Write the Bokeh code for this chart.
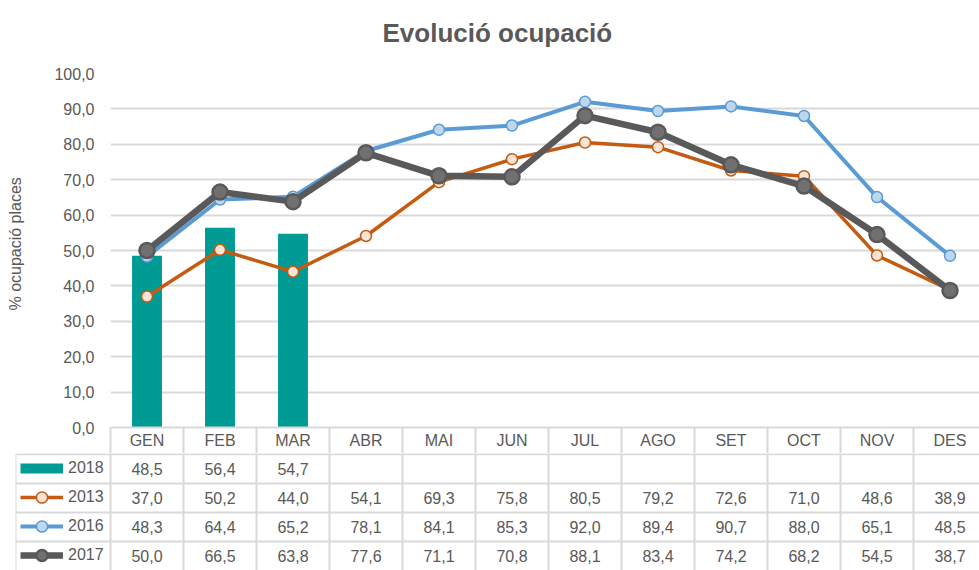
from bokeh.plotting import figure
from bokeh.models import Range1d, FixedTicker, Legend, LegendItem, ColumnDataSource, Title
from bokeh.embed import file_html
from bokeh.resources import INLINE
from bokeh.core.properties import value

# ---------------- data ----------------
months = ["GEN", "FEB", "MAR", "ABR", "MAI", "JUN", "JUL", "AGO", "SET", "OCT", "NOV", "DES"]
v2018 = [48.5, 56.4, 54.7]
v2013 = [37.0, 50.2, 44.0, 54.1, 69.3, 75.8, 80.5, 79.2, 72.6, 71.0, 48.6, 38.9]
v2016 = [48.3, 64.4, 65.2, 78.1, 84.1, 85.3, 92.0, 89.4, 90.7, 88.0, 65.1, 48.5]
v2017 = [50.0, 66.5, 63.8, 77.6, 71.1, 70.8, 88.1, 83.4, 74.2, 68.2, 54.5, 38.7]
y_ticks = [0, 10, 20, 30, 40, 50, 60, 70, 80, 90, 100]
series_names = ["2018", "2013", "2016", "2017"]
title_text = "Evolució ocupació"
y_label = "% ocupació  places"

# ---------------- style ----------------
FONT = "Liberation Sans"
FS = "16px"
TXT = "#595959"
GRID = "#D9D9D9"
C2018 = "#009B95"
C2013 = "#C55A11"
F2013 = "#FBE5D6"
C2016 = "#5B9BD5"
F2016 = "#BDD7EE"
C2017 = "#595959"
F2017 = "#707070"

W = 979
CAT = 73.0          # px per month column
LEFT = 110          # figure left edge -> plot frame
TBL_LEFT = 15       # figure left edge -> table frame
x_end = (W - LEFT) / CAT
x_tbl0 = -(LEFT - TBL_LEFT) / CAT
NAN = float("nan")


def fmt(v):
    return f"{v:.1f}".replace(".", ",")


xc = [i + 0.5 for i in range(len(months))]

# ---------------- chart ----------------
p = figure(width=W, height=453, x_range=Range1d(0, x_end), y_range=Range1d(0, 100),
           output_backend="svg", toolbar_location=None,
           min_border_left=LEFT, min_border_right=0, min_border_top=73, min_border_bottom=26,
           outline_line_color=None, background_fill_color="white", border_fill_color="white")

p.title.text = title_text
p.title.align = "left"
p.title.offset = 272
p.title.text_font = FONT
p.title.text_font_size = "26px"
p.title.text_font_style = "bold"
p.title.text_color = TXT
p.title.standoff = 10
# thin spacer between the title and the plot area
p.add_layout(Title(text=" ", text_font_size="1px", standoff=18), "above")

p.xgrid.visible = False
p.ygrid.ticker = FixedTicker(ticks=y_ticks)
p.ygrid.grid_line_color = GRID
p.ygrid.grid_line_width = 2

ya = p.yaxis[0]
ya.ticker = FixedTicker(ticks=y_ticks)
ya.major_label_overrides = {t: fmt(t) for t in y_ticks}
ya.axis_line_color = None
ya.major_tick_line_color = None
ya.minor_tick_line_color = None
ya.major_tick_out = 0
ya.major_label_standoff = 16
ya.major_label_text_font = FONT
ya.major_label_text_font_size = FS
ya.major_label_text_color = TXT
ya.axis_label = "\u00a0" * 4 + y_label
ya.axis_label_text_font = FONT
ya.axis_label_text_font_size = FS
ya.axis_label_text_font_style = "normal"
ya.axis_label_text_color = TXT
ya.axis_label_standoff = 27

xa = p.xaxis[0]
xa.ticker = FixedTicker(ticks=xc, minor_ticks=list(range(len(months) + 1)))
xa.major_label_overrides = {x: m for x, m in zip(xc, months)}
xa.axis_line_color = GRID
xa.axis_line_width = 2
xa.major_tick_line_color = None
xa.major_tick_out = 0
xa.major_tick_in = 0
xa.minor_tick_line_color = GRID
xa.minor_tick_line_width = 2
xa.minor_tick_out = 26
xa.minor_tick_in = 0
xa.major_label_standoff = -22
xa.major_label_text_font = FONT
xa.major_label_text_font_size = FS
xa.major_label_text_color = TXT

src = ColumnDataSource(dict(x=xc, v2013=v2013, v2016=v2016, v2017=v2017))
bar_src = ColumnDataSource(dict(x=xc[:len(v2018)], top=v2018))

p.vbar(x="x", top="top", width=0.41, source=bar_src, fill_color=C2018, line_color=None)
p.line("x", "v2013", source=src, line_color=C2013, line_width=3.5)
p.scatter("x", "v2013", source=src, size=11, fill_color=F2013, line_color=C2013, line_width=1.5)
p.line("x", "v2016", source=src, line_color=C2016, line_width=4)
p.scatter("x", "v2016", source=src, size=11, fill_color=F2016, line_color=C2016, line_width=1.5)
p.line("x", "v2017", source=src, line_color=C2017, line_width=6.5)
p.scatter("x", "v2017", source=src, size=15, fill_color=F2017, line_color=C2017, line_width=2.5)

# ---------------- data table ----------------
nrows = len(series_names)
t = figure(width=W, height=117, x_range=Range1d(x_tbl0, x_end), y_range=Range1d(0, nrows + 0.03),
           output_backend="svg", toolbar_location=None,
           min_border_left=TBL_LEFT, min_border_right=0, min_border_top=0, min_border_bottom=0,
           outline_line_color=None, background_fill_color="white", border_fill_color="white")
t.axis.visible = False
t.grid.visible = False

# table rules
vx = [x_tbl0] + list(range(len(months)))
t.segment(x0=vx, x1=vx, y0=[0] * len(vx), y1=[nrows] * len(vx), line_color=GRID, line_width=2)
hy = list(range(1, nrows + 1))
t.segment(x0=[x_tbl0] * len(hy), x1=[x_end] * len(hy), y0=hy, y1=hy, line_color=GRID, line_width=2)

# table values
all_vals = {"2018": v2018, "2013": v2013, "2016": v2016, "2017": v2017}
tx, ty, tt = [], [], []
for r, name in enumerate(series_names):
    row_y = nrows - r - 0.5
    for i, v in enumerate(all_vals[name]):
        tx.append(xc[i])
        ty.append(row_y)
        tt.append(fmt(v))
t.text(x=tx, y=ty, text=tt, text_align="center", text_baseline="middle",
       text_font=value(FONT), text_font_size=FS, text_color=TXT)

# legend keys inside the table (renderers styled like the series, nothing plotted)
k18 = t.line(x=[NAN], y=[NAN], line_color=C2018, line_width=10)
k13l = t.line(x=[NAN], y=[NAN], line_color=C2013, line_width=3.5)
k13m = t.scatter(x=[NAN], y=[NAN], fill_color=F2013, line_color=C2013, line_width=1.5)
k16l = t.line(x=[NAN], y=[NAN], line_color=C2016, line_width=4)
k16m = t.scatter(x=[NAN], y=[NAN], fill_color=F2016, line_color=C2016, line_width=1.5)
k17l = t.line(x=[NAN], y=[NAN], line_color=C2017, line_width=6.5)
k17m = t.scatter(x=[NAN], y=[NAN], fill_color=F2017, line_color=C2017, line_width=2.5)

legend = Legend(items=[
    LegendItem(label=series_names[0], renderers=[k18]),
    LegendItem(label=series_names[1], renderers=[k13l, k13m]),
    LegendItem(label=series_names[2], renderers=[k16l, k16m]),
    LegendItem(label=series_names[3], renderers=[k17l, k17m]),
], location=(5, 1), orientation="vertical", glyph_width=43, glyph_height=28, label_height=28,
    spacing=1, padding=0, margin=0, label_standoff=5, border_line_color=None,
    background_fill_alpha=0, label_text_font=FONT, label_text_font_size=FS,
    label_text_color=TXT)
t.add_layout(legend)

open("out.html", "w").write(file_html([p, t], INLINE))
